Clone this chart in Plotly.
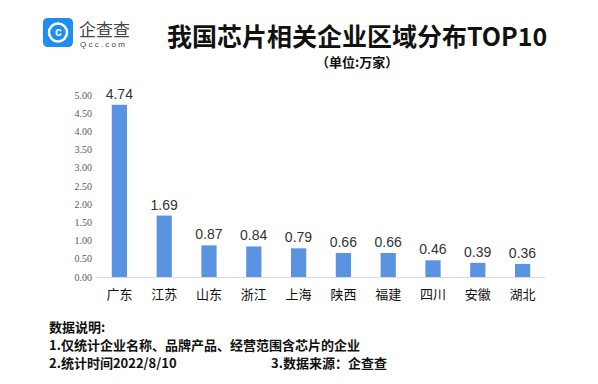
import plotly.graph_objects as go

categories = ["广东", "江苏", "山东", "浙江", "上海", "陕西", "福建", "四川", "安徽", "湖北"]
values = [4.74, 1.69, 0.87, 0.84, 0.79, 0.66, 0.66, 0.46, 0.39, 0.36]
tick_vals = [0, 0.5, 1, 1.5, 2, 2.5, 3, 3.5, 4, 4.5, 5]
tick_text = ["0.00", "0.50", "1.00", "1.50", "2.00", "2.50", "3.00", "3.50", "4.00", "4.50", "5.00"]

# page body has an 8px margin; work in reference pixel coords and shift
OFF = 8
W, H = 598 - OFF, 384 - OFF
CJK = "Noto Sans CJK SC"

L, R, T, B = 97 - OFF, 545 - OFF, 88 - OFF, 277 - OFF


def px_x(x):
    return (x - OFF - L) / (R - L)


def px_y(y):
    return (B - (y - OFF)) / (B - T)


fig = go.Figure()
fig.add_trace(go.Bar(
    x=categories, y=values,
    marker=dict(color="#5B93E3", line=dict(width=0)),
    width=0.34,
    text=[f"{v:.2f}" for v in values],
    textposition="outside",
    constraintext="none",
    textfont=dict(family="Liberation Sans, Arial", size=14, color="#333333"),
    cliponaxis=False,
))

fig.update_layout(
    width=W, height=H,
    margin=dict(l=L, r=W - R, t=T, b=H - B),
    plot_bgcolor="white", paper_bgcolor="white",
    showlegend=False,
    xaxis=dict(
        range=[-0.5, 9.5], showgrid=False, showline=True, linecolor="#D9D9D9", linewidth=1,
        ticks="", ticklabelstandoff=5, tickfont=dict(family=CJK, size=13, color="#111111"),
    ),
    yaxis=dict(
        range=[0, 5.2], showgrid=False, zeroline=False, showline=False,
        tickvals=tick_vals, ticktext=tick_text, ticks="", ticklabelstandoff=4,
        tickfont=dict(family="Liberation Serif, Times New Roman", size=10, color="#595959"),
    ),
)

# Title and subtitle
fig.add_annotation(text="<b>我国芯片相关企业区域分布TOP10</b>", xref="paper", yref="paper",
                   x=px_x(357), y=px_y(35), xanchor="center", yanchor="middle",
                   showarrow=False, font=dict(family=CJK, size=25, color="#111111"))
fig.add_annotation(text="<b>（单位:万家）</b>", xref="paper", yref="paper",
                   x=px_x(357), y=px_y(62), xanchor="center", yanchor="middle",
                   showarrow=False, font=dict(family=CJK, size=13, color="#111111"))

# Logo
p = (f"M {px_x(48)} {px_y(18)} L {px_x(68)} {px_y(18)} Q {px_x(73)} {px_y(18)} {px_x(73)} {px_y(23)} "
     f"L {px_x(73)} {px_y(42)} Q {px_x(73)} {px_y(47)} {px_x(68)} {px_y(47)} L {px_x(48)} {px_y(47)} "
     f"Q {px_x(43)} {px_y(47)} {px_x(43)} {px_y(42)} L {px_x(43)} {px_y(23)} Q {px_x(43)} {px_y(18)} {px_x(48)} {px_y(18)} Z")
fig.add_shape(type="path", xref="paper", yref="paper", path=p,
              fillcolor="#1E8FF0", line=dict(width=0), layer="above")
fig.add_shape(type="circle", xref="paper", yref="paper",
              x0=px_x(49), x1=px_x(67), y0=px_y(41.5), y1=px_y(23.5),
              line=dict(color="white", width=2.5), fillcolor="rgba(0,0,0,0)", layer="above")
fig.add_annotation(text="<b>c</b>", xref="paper", yref="paper", x=px_x(58), y=px_y(32),
                   xanchor="center", yanchor="middle", showarrow=False,
                   font=dict(family="Liberation Sans", size=12, color="white"))
fig.add_annotation(text="企查查", xref="paper", yref="paper", x=px_x(77), y=px_y(28),
                   xanchor="left", yanchor="middle", showarrow=False,
                   font=dict(family=CJK, size=17, color="#444444"))
fig.add_annotation(text="Q c c . c o m", xref="paper", yref="paper", x=px_x(78), y=px_y(44),
                   xanchor="left", yanchor="middle", showarrow=False,
                   font=dict(family="Liberation Sans", size=8, color="#444444"))

# Notes
notes = [
    ("<b>数据说明:</b>", 48, 326, "left"),
    ("<b>1.仅统计企业名称、品牌产品、经营范围含芯片的企业</b>", 48, 344, "left"),
    ("<b>2.统计时间2022/8/10</b>", 48, 362, "left"),
    ("<b>3.数据来源：企查查</b>", 388, 362, "right"),
]
for txt, x, y, anc in notes:
    fig.add_annotation(text=txt, xref="paper", yref="paper", x=px_x(x), y=px_y(y),
                       xanchor=anc, yanchor="middle", showarrow=False, borderpad=0,
                       font=dict(family=CJK, size=13, color="#111111"))

fig.write_html("out.html")
